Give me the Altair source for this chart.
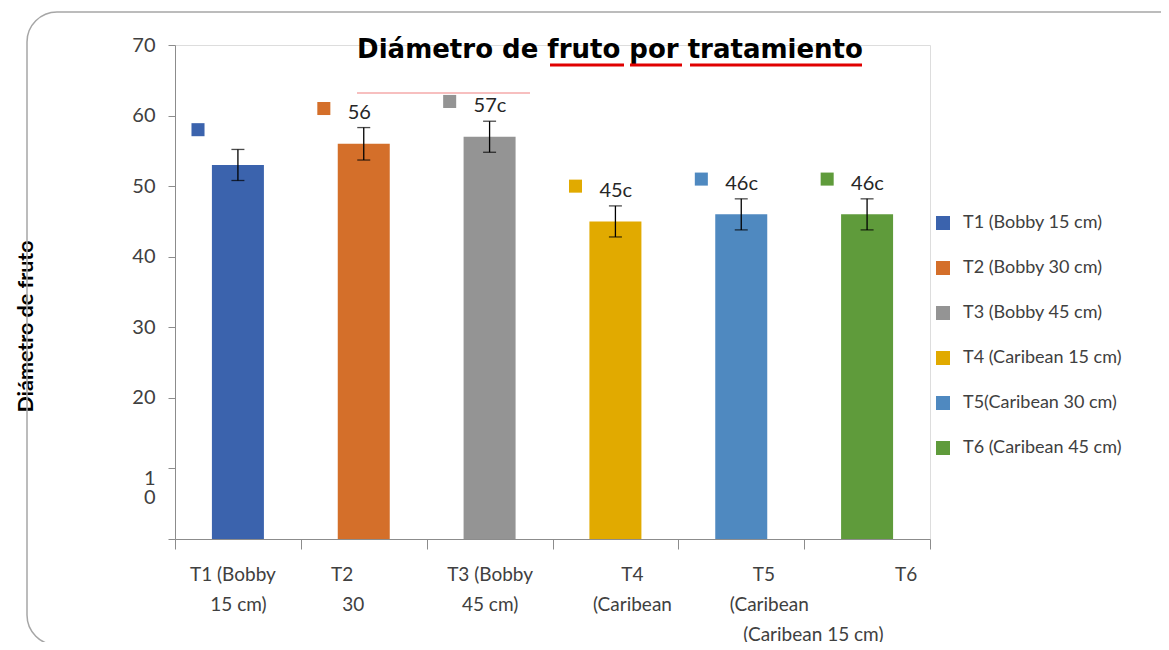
import altair as alt
import pandas as pd
import json

tratamientos = ["T1", "T2", "T3", "T4", "T5", "T6"]
leyenda = ["T1 (Bobby 15 cm)", "T2 (Bobby 30 cm)", "T3 (Bobby 45 cm)",
           "T4 (Caribean 15 cm)", "T5(Caribean 30 cm)", "T6 (Caribean 45 cm)"]
diametro = [53, 56, 57, 45, 46, 46]
error = [2.2, 2.3, 2.2, 2.2, 2.2, 2.2]
etiquetas = ["", "56", "57c", "45c", "46c", "46c"]
eje_x = [["T1 (Bobby", "15 cm)"], ["T2", "30"], ["T3 (Bobby", "45 cm)"],
         ["T4", "(Caribean"], ["T5", "(Caribean", "(Caribean 15 cm)"], ["T6"]]
colores = ["#3B63AD", "#D46F2A", "#949494", "#E1AA00", "#4F89C0", "#5F9B3B"]
y_ticks = [0, 10, 20, 30, 40, 50, 60, 70]
titulo = "Diámetro de fruto por tratamiento"

SP = "\u2007"   # figure space
ZW = "\u200b"   # zero-width space keeps the padding from being trimmed
# small horizontal nudges of the category label lines
nudges = [[-1, 0], [-4, -2], [0, 0], [3, 3], [4, 5, 13], [7]]


def nudge(line, n):
    if n > 0:
        return ZW + SP * n + line
    if n < 0:
        return line + SP * (-n) + ZW
    return line


eje_x_txt = [[nudge(l, n) for l, n in zip(lines, ns)] for lines, ns in zip(eje_x, nudges)]

df = pd.DataFrame({
    "tratamiento": tratamientos,
    "leyenda": leyenda,
    "diametro": diametro,
    "error": error,
    "etiqueta": etiquetas,
})
df["lo"] = df["diametro"] - df["error"]
df["hi"] = df["diametro"] + df["error"]

label_map = json.dumps(dict(zip(tratamientos, eje_x_txt)))
x_label_expr = f"{label_map}[datum.value]"

FONT = "Lato"
W, H = 755, 494

x_enc = alt.X(
    "tratamiento:N", sort=tratamientos, title=None,
    scale=alt.Scale(paddingInner=0, paddingOuter=0),
    axis=alt.Axis(
        labelExpr=x_label_expr, labelAngle=0, labelFontSize=19, labelFont=FONT,
        labelColor="#404040", labelLineHeight=30, labelPadding=16,
        labelBaseline="top", tickBand="extent", tickSize=10, labelLimit=400,
        labelOverlap=False,
        tickColor="#8c8c8c", domainColor="#8c8c8c", grid=False,
    ),
)
y_enc = alt.Y(
    "diametro:Q", scale=alt.Scale(domain=[0, 70], nice=False),
    title="Diámetro de fruto",
    axis=alt.Axis(
        values=y_ticks, grid=False, tickSize=7, tickColor="#8c8c8c",
        domainColor="#8c8c8c", labelFontSize=20, labelFont=FONT,
        labelColor="#404040", labelPadding=13, labelLineHeight=19,
        labelExpr="datum.value == 0 ? '' : (datum.value == 10 ? ['1', '0'] : datum.label)",
        labelBaseline={"condition": {"test": "datum.value == 10", "value": "top"}, "value": "middle"},
        titleFont=FONT, titleFontSize=21.5, titleFontWeight="bold", titleColor="#000000",
        titleAngle=-90, titleX=-143, titleY=281, titleAlign="center",
        titleBaseline="alphabetic",
    ),
)
color_enc = alt.Color(
    "leyenda:N", sort=leyenda,
    scale=alt.Scale(domain=leyenda, range=colores),
    legend=alt.Legend(
        title=None, orient="none", legendX=759, legendY=169,
        symbolType="square", symbolSize=196, symbolStrokeWidth=0,
        labelFontSize=18, labelFont=FONT, labelColor="#404040",
        rowPadding=27, padding=0, labelOffset=11,
    ),
)

base = alt.Chart(df)
one = "datum.tratamiento == 'T1'"

frame = base.mark_rect(
    fill=None, stroke="#a6a6a6", strokeWidth=1.5, cornerRadius=30
).encode(
    x=alt.value(-148), x2=alt.value(1100), y=alt.value(-33), y2=alt.value(600)
).transform_filter(one)

bars = base.mark_bar(width=52).encode(x=x_enc, y=y_enc, color=color_enc)

xs = alt.X("tratamiento:N", sort=tratamientos)

err_rule = base.mark_rule(color="black", strokeWidth=1.3).encode(
    x=xs, y=alt.Y("lo:Q"), y2="hi:Q",
)
caps_hi = base.mark_tick(color="black", size=13, thickness=1.3, orient="horizontal").encode(
    x=xs, y=alt.Y("hi:Q"))
caps_lo = base.mark_tick(color="black", size=13, thickness=1.3, orient="horizontal").encode(
    x=xs, y=alt.Y("lo:Q"))

squares = base.mark_point(shape="square", filled=True, size=170, opacity=1).encode(
    x=xs,
    xOffset=alt.value(23),
    y=alt.Y("pos:Q"),
    color=alt.Color("leyenda:N", sort=leyenda, scale=alt.Scale(domain=leyenda, range=colores)),
).transform_calculate(pos="datum.diametro + 5.0")

texts = base.mark_text(align="left", baseline="middle", dx=-16, fontSize=20,
                       font=FONT, color="#262626").encode(
    x=xs,
    y=alt.Y("pos:Q"),
    text="etiqueta:N",
).transform_calculate(pos="datum.diametro + 4.3")

title_txt = base.mark_text(
    font="DejaVu Sans", fontSize=26, fontWeight="bold", color="#000000",
    align="center", baseline="alphabetic",
).encode(
    x=alt.value(435), y=alt.value(13), text=alt.value(titulo)
).transform_filter(one)

ul1 = base.mark_rule(color="#e00000", strokeWidth=3).encode(
    x=alt.value(375), x2=alt.value(449), y=alt.value(20)).transform_filter(one)
ul2 = base.mark_rule(color="#e00000", strokeWidth=3).encode(
    x=alt.value(455), x2=alt.value(507), y=alt.value(20)).transform_filter(one)
ul3 = base.mark_rule(color="#e00000", strokeWidth=3).encode(
    x=alt.value(515), x2=alt.value(687), y=alt.value(20)).transform_filter(one)
thin = base.mark_rule(color="#f08080", strokeWidth=1.2).encode(
    x=alt.value(182), x2=alt.value(355), y=alt.value(48)).transform_filter(one)

chart = alt.layer(
    frame, bars, err_rule, caps_hi, caps_lo, squares, texts, title_txt, ul1, ul2, ul3, thin
).properties(
    width=W, height=H,
    autosize=alt.AutoSizeParams(type="none"),
    padding={"left": 167, "top": 37, "right": 231, "bottom": 103},
).configure_view(stroke=None).configure(background="white")

chart.save("out.html", embed_options={"renderer": "svg", "actions": False})
